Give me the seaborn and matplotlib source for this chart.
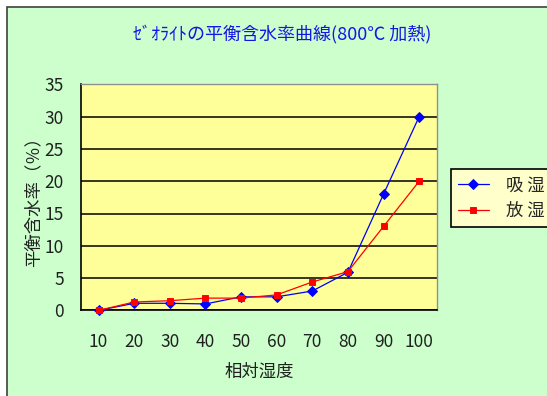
import matplotlib
matplotlib.use("Agg")
import matplotlib.pyplot as plt
from matplotlib.patches import Rectangle
from matplotlib.ticker import FixedLocator, MultipleLocator
import numpy as np
import pandas as pd
import seaborn as sns

# Relative humidity categories and equilibrium moisture content (%)
humidity = [10, 20, 30, 40, 50, 60, 70, 80, 90, 100]
absorb = [0.0, 1.1, 1.1, 1.0, 2.1, 2.1, 3.0, 5.9, 18.0, 30.0]
release = [0.0, 1.3, 1.5, 1.9, 1.9, 2.4, 4.4, 6.0, 13.0, 20.0]
series_names = ["吸 湿", "放 湿"]

title = "ｾﾞｵﾗｲﾄの平衡含水率曲線(800℃ 加熱)"
xlabel = "相対湿度"
ylabel = "平衡含水率（％）"

df = pd.DataFrame({
    "humidity": humidity * 2,
    "value": absorb + release,
    "series": [series_names[0]] * len(humidity) + [series_names[1]] * len(humidity),
})

sns.set_theme(style="white")
plt.rcParams["font.family"] = ["Noto Sans CJK JP", "DejaVu Sans"]

W, H = 547, 396
fig = plt.figure(figsize=(W / 100, H / 100), dpi=100, facecolor="white")

# chart area panel with a thin frame on its left/top edges
panel = Rectangle((6.5 / W, -0.1), 1.2, (H - 6.5) / H + 0.1,
                  transform=fig.transFigure, facecolor="#CCFFCC",
                  edgecolor="#404040", linewidth=1.2, zorder=-10)
fig.patches.append(panel)

ax = fig.add_axes([80.7 / W, (H - 310.4) / H, (437 - 80.7) / W, (310.4 - 84.3) / H])
ax.set_facecolor("#FFFF99")

sns.pointplot(data=df, x="humidity", y="value", hue="series",
              hue_order=series_names, palette=["#0000FF", "#FF0000"],
              markers=["D", "s"], linestyles=["-", "-"],
              markersize=4.8, linewidth=0.9, errorbar=None, ax=ax)

for ln in ax.lines:
    ln.set_clip_on(False)
    ln.set_zorder(5)

ax.set_ylim(0, 35)
ax.set_xlim(-0.5, len(humidity) - 0.5)
ax.yaxis.set_major_locator(MultipleLocator(5))
ax.grid(axis="y", color="black", linewidth=1.1)
ax.grid(axis="x", visible=False)
ax.set_axisbelow(True)

for s in ["left", "bottom"]:
    ax.spines[s].set_color("black")
    ax.spines[s].set_linewidth(1.2)
for s in ["top", "right"]:
    ax.spines[s].set_color("#909090")
    ax.spines[s].set_linewidth(1.0)

ax.tick_params(axis="y", length=0, pad=12, labelsize=12.5, labelcolor="#202020")
ax.tick_params(axis="x", which="major", length=0, pad=16, labelsize=12.5, labelcolor="#202020")
ax.xaxis.set_minor_locator(FixedLocator(np.arange(0.5, len(humidity) - 1, 1.0)))
ax.tick_params(axis="x", which="minor", direction="in", length=5, width=1, color="black")

ax.set_xlabel(xlabel, fontsize=12.5, color="#202020", labelpad=9)
ax.set_ylabel(ylabel, fontsize=12.5, color="#202020", labelpad=2)

fig.text(282 / W, 1 - 34 / H, title, ha="center", va="center",
         fontsize=13, color="#1515E8")

sns.move_legend(ax, "upper left", bbox_to_anchor=(450.7 / W, 1 - 169.3 / H),
                bbox_transform=fig.transFigure, title=None, frameon=True,
                fancybox=False, framealpha=1, facecolor="#FFFFCC",
                edgecolor="black", fontsize=12.5, handlelength=1.8,
                handletextpad=1.0, labelspacing=0.45, borderpad=0.4,
                borderaxespad=0)
leg = ax.get_legend()
leg.get_frame().set_linewidth(1.2)

fig.savefig("out.png", dpi=100, facecolor="white")
